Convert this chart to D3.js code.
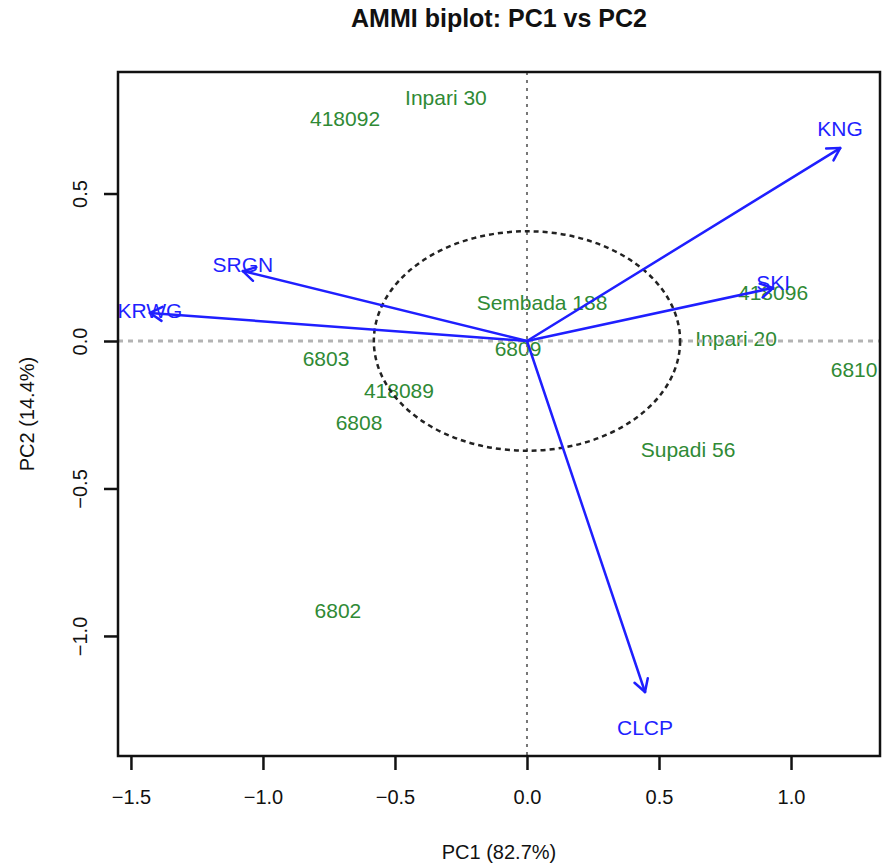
<!DOCTYPE html>
<html>
<head>
<meta charset="utf-8">
<script src="https://cdn.jsdelivr.net/npm/d3@7"></script>
<style>
  body { margin: 0; background: #fff; }
  text { font-family: "Liberation Sans", Arial, Helvetica, sans-serif; }
</style>
</head>
<body>
<div id="biplot"></div>
<script>
// AMMI biplot, PC1 vs PC2

// genotype scores
var genotypes = ["Inpari 30", "418092", "Sembada 188", "6809", "Inpari 20", "418096",
                 "6810", "Supadi 56", "6803", "418089", "6808", "6802"];
var genoPC1 = [-0.307, -0.689, 0.057, -0.034, 0.792, 0.932, 1.239, 0.610, -0.761, -0.485, -0.636, -0.716];
var genoPC2 = [0.827, 0.753, 0.132, -0.024, 0.007, 0.163, -0.098, -0.369, -0.058, -0.166, -0.275, -0.912];

// environment scores (arrow tips)
var environments = ["KNG", "SKI", "SRGN", "KRWG", "CLCP"];
var envPC1 = [1.186, 0.932, -1.076, -1.428, 0.447];
var envPC2 = [0.654, 0.180, 0.237, 0.095, -1.190];

// axis ticks and titles
var xTicks = [-1.5, -1.0, -0.5, 0.0, 0.5, 1.0];
var yTicks = [-1.0, -0.5, 0.0, 0.5];
var xDomain = [-1.549, 1.337];
var yDomain = [-1.407, 0.912];
var circleRadius = [0.58, 0.372]; // dashed reference ellipse, in PC units
var chartTitle = "AMMI biplot: PC1 vs PC2";
var xTitle = "PC1 (82.7%)";
var yTitle = "PC2 (14.4%)";

// Step 1: chart size
var svgWidth = 882;
var svgHeight = 865;
var margin = { top: 72, right: 2, bottom: 109, left: 118 };
var width = svgWidth - margin.left - margin.right;
var height = svgHeight - margin.top - margin.bottom;

var genoColor = "#2f8a35";
var envColor = "#1f1fff";

// Step 2: svg wrapper
var svg = d3.select("#biplot")
    .append("svg")
    .attr("width", svgWidth)
    .attr("height", svgHeight);

var chartGroup = svg.append("g")
    .attr("transform", `translate(${margin.left}, ${margin.top})`);

svg.append("defs").append("clipPath")
    .attr("id", "plotClip")
    .append("rect")
    .attr("x", 0).attr("y", 0)
    .attr("width", width).attr("height", height);

var x = d3.scaleLinear().domain(xDomain).range([0, width]);
var y = d3.scaleLinear().domain(yDomain).range([height, 0]);

var plotArea = chartGroup.append("g").attr("clip-path", "url(#plotClip)");

// genotype labels
var genoData = genotypes.map((g, i) => ({ name: g, pc1: genoPC1[i], pc2: genoPC2[i] }));
plotArea.selectAll(".geno")
    .data(genoData)
    .enter()
    .append("text")
    .attr("class", "geno")
    .attr("x", d => x(d.pc1))
    .attr("y", d => y(d.pc2))
    .attr("dy", "0.36em")
    .attr("text-anchor", "middle")
    .attr("font-size", "21px")
    .attr("fill", genoColor)
    .text(d => d.name);

// zero lines
plotArea.append("line")
    .attr("x1", 0).attr("x2", width)
    .attr("y1", y(0)).attr("y2", y(0))
    .attr("stroke", "#b3b3b3")
    .attr("stroke-width", 3)
    .attr("stroke-dasharray", "5,5");

plotArea.append("line")
    .attr("x1", x(0)).attr("x2", x(0))
    .attr("y1", 0).attr("y2", height)
    .attr("stroke", "#777")
    .attr("stroke-width", 2)
    .attr("stroke-dasharray", "3,5");

// dashed ellipse round the origin
plotArea.append("ellipse")
    .attr("cx", x(0))
    .attr("cy", y(0))
    .attr("rx", x(circleRadius[0]) - x(0))
    .attr("ry", y(0) - y(circleRadius[1]))
    .attr("fill", "none")
    .attr("stroke", "#222")
    .attr("stroke-width", 2.5)
    .attr("stroke-dasharray", "5,4");

// environment arrows
var envData = environments.map((e, i) => ({ name: e, pc1: envPC1[i], pc2: envPC2[i] }));
var headLen = 14;

envData.forEach(function(d) {
    var x0 = x(0), y0 = y(0), x1 = x(d.pc1), y1 = y(d.pc2);
    var ang = Math.atan2(y1 - y0, x1 - x0);
    var g = plotArea.append("g")
        .attr("stroke", envColor)
        .attr("stroke-width", 2.5)
        .attr("stroke-linecap", "round")
        .attr("fill", "none");
    g.append("line")
        .attr("x1", x0).attr("y1", y0)
        .attr("x2", x1).attr("y2", y1);
    [Math.PI / 6, -Math.PI / 6].forEach(function(a) {
        g.append("line")
            .attr("x1", x1).attr("y1", y1)
            .attr("x2", x1 - headLen * Math.cos(ang + a))
            .attr("y2", y1 - headLen * Math.sin(ang + a));
    });
});

// environment labels, a little further out than the tip
plotArea.selectAll(".env")
    .data(envData)
    .enter()
    .append("text")
    .attr("class", "env")
    .attr("x", d => x(d.pc1))
    .attr("y", d => y(d.pc2 * 1.1))
    .attr("dy", "0.36em")
    .attr("text-anchor", "middle")
    .attr("font-size", "21px")
    .attr("fill", envColor)
    .text(d => d.name);

// box
chartGroup.append("rect")
    .attr("width", width)
    .attr("height", height)
    .attr("fill", "none")
    .attr("stroke", "#111")
    .attr("stroke-width", 2.5);

// x axis
var bottomAxis = d3.axisBottom(x)
    .tickValues(xTicks)
    .tickSize(14)
    .tickSizeOuter(0)
    .tickPadding(20)
    .tickFormat(d3.format(".1f"));

var xAxis = chartGroup.append("g")
    .attr("transform", `translate(0, ${height})`)
    .call(bottomAxis);
xAxis.select(".domain").remove();
xAxis.selectAll("line").attr("stroke", "#111").attr("stroke-width", 2.5);
xAxis.selectAll("text")
    .attr("font-size", "20px")
    .attr("font-family", "Liberation Sans, Arial, sans-serif")
    .attr("fill", "#111");

// y axis, labels turned like base R
var leftAxis = d3.axisLeft(y)
    .tickValues(yTicks)
    .tickSize(14)
    .tickSizeOuter(0)
    .tickFormat(d3.format(".1f"));

var yAxis = chartGroup.append("g")
    .call(leftAxis);
yAxis.select(".domain").remove();
yAxis.selectAll("line").attr("stroke", "#111").attr("stroke-width", 2.5);
yAxis.selectAll("text")
    .attr("x", null)
    .attr("dy", null)
    .attr("transform", "translate(-31, 0) rotate(-90)")
    .attr("text-anchor", "middle")
    .attr("font-size", "20px")
    .attr("font-family", "Liberation Sans, Arial, sans-serif")
    .attr("fill", "#111");

// titles
svg.append("text")
    .attr("x", margin.left + width / 2)
    .attr("y", 27)
    .attr("text-anchor", "middle")
    .attr("font-size", "25px")
    .attr("font-weight", "bold")
    .attr("fill", "#111")
    .text(chartTitle);

svg.append("text")
    .attr("x", margin.left + width / 2)
    .attr("y", 859)
    .attr("text-anchor", "middle")
    .attr("font-size", "20px")
    .attr("fill", "#111")
    .text(xTitle);

svg.append("text")
    .attr("transform", `translate(34, ${margin.top + height / 2}) rotate(-90)`)
    .attr("text-anchor", "middle")
    .attr("font-size", "20px")
    .attr("fill", "#111")
    .text(yTitle);
</script>
</body>
</html>
